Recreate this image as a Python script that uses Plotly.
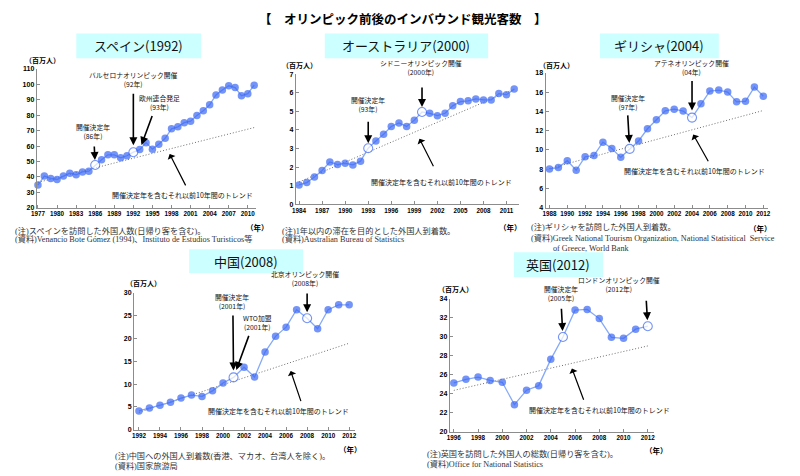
import numpy as np
import plotly.graph_objects as go

W, H = 800, 476

# ---------------- data ----------------
spain_years = list(range(1977, 2012))
spain_values = [34.7, 40.5, 39.0, 38.3, 40.5, 42.4, 41.3, 43.2, 43.7, 47.7,
                51.1, 54.3, 54.3, 52.4, 53.7, 56.0, 57.7, 62.2, 58.0, 61.2,
                65.0, 71.2, 72.5, 75.2, 76.1, 79.9, 82.9, 86.8, 93.2, 96.4,
                99.1, 98.0, 92.7, 94.0, 99.5]
spain_open = [1986, 1992]
spain_trend_years = [1977, 2011]
spain_trend_values = [36.4, 72.0]
spain_xticks = [1977, 1980, 1983, 1986, 1989, 1992, 1995, 1998, 2001, 2004, 2007, 2010]
spain_yticks = [20, 30, 40, 50, 60, 70, 80, 90, 100, 110]

aus_years = list(range(1984, 2013))
aus_values = [1.04, 1.17, 1.47, 1.82, 2.28, 2.14, 2.21, 2.12, 2.32, 3.02,
              3.41, 3.77, 4.19, 4.38, 4.19, 4.53, 4.97, 4.90, 4.77, 4.90,
              5.30, 5.53, 5.57, 5.67, 5.62, 5.62, 5.96, 5.90, 6.20]
aus_open = [1993, 2000]
aus_trend_years = [1984, 2012]
aus_trend_values = [1.2, 6.2]
aus_xticks = [1984, 1987, 1990, 1993, 1996, 1999, 2002, 2005, 2008, 2011]
aus_yticks = [0, 1, 2, 3, 4, 5, 6, 7]

gre_years = list(range(1988, 2013))
gre_values = [8.03, 8.17, 8.88, 7.89, 9.29, 9.43, 10.8, 10.15, 9.23, 10.11,
              10.93, 12.2, 13.15, 14.07, 14.24, 14.04, 13.36, 14.79, 16.12, 16.22,
              16.02, 15.0, 15.06, 16.53, 15.58]
gre_open = [1997, 2004]
gre_trend_years = [1988, 2012]
gre_trend_values = [8.07, 14.1]
gre_xticks = list(range(1988, 2013, 2))
gre_yticks = [4, 6, 8, 10, 12, 14, 16, 18]

chn_years = list(range(1992, 2013))
chn_values = [4.12, 4.77, 5.34, 5.99, 6.93, 7.58, 7.29, 8.52, 10.25, 11.47,
              13.71, 11.54, 17.02, 20.48, 22.5, 26.32, 24.45, 22.14, 26.32, 27.4, 27.4]
chn_open = [2001, 2008]
chn_trend_years = [1992, 2012]
chn_trend_values = [3.8, 18.97]
chn_xticks = list(range(1992, 2013, 2))
chn_yticks = [0, 5, 10, 15, 20, 25, 30]

uk_years = list(range(1996, 2013))
uk_values = [25.14, 25.52, 25.76, 25.41, 25.21, 22.86, 24.38, 24.86, 27.62, 29.97,
             32.79, 32.86, 31.9, 29.93, 29.83, 30.79, 31.1]
uk_open = [2005, 2012]
uk_trend_years = [1996, 2012]
uk_trend_values = [24.36, 29.03]
uk_xticks = list(range(1996, 2013, 2))
uk_yticks = [20, 22, 24, 26, 28, 30, 32, 34]

main_title = "【　オリンピック前後のインバウンド観光客数　】"
trend_label = "開催決定年を含むそれ以前10年間のトレンド"

# ---------------- styles ----------------
SANS = "Liberation Sans, Arial, Noto Sans CJK JP"
CJK = "Noto Sans CJK JP, Liberation Sans"
SERIF = "Liberation Serif, Noto Sans CJK JP"
LINE_C = "#86AAF8"
MARK_C = "#3A66F4"
BOX_C = "#CCFFFF"

def px(x):
    return x / W

def py(y):
    return 1 - y / H

panels = [
    dict(name="スペイン(1992)", years=spain_years, values=spain_values, open=spain_open,
         ty=spain_trend_years, tv=spain_trend_values, xt=spain_xticks, yt=spain_yticks,
         xdom=(31, 253), ydom=(66, 206.7), xr=(1976.8, 2011.36), yr=(20, 110),
         box=(71, 30, 197, 55),
         unit=(37, 57), nen=(254, 227),
         notes=[(7, 230, "(注)スペインを訪問した外国人数(日帰り客を含む)。"),
                (7, 239, "(資料)Venancio Bote Gómez (1994)、Instituto de Estudios Turisticos等")],
         events=[(1986, "開催決定年<br>(86年)", -2, 22, -1, -20, 5),
                 (1992, "バルセロナオリンピック開催<br>(92年)", 0, 61, 0, -60, 7),
                 (1993, "欧州連合発足<br>(93年)", 20, 36, 13, -35, 5)],
         trend_ann=(1997.35, 15, -45.3, 19, 37.3, 5)),
    dict(name="オーストラリア(2000)", years=aus_years, values=aus_values, open=aus_open,
         ty=aus_trend_years, tv=aus_trend_values, xt=aus_xticks, yt=aus_yticks,
         xdom=(292.7, 518), ydom=(71.3, 203.3), xr=(1983.57, 2012.6), yr=(0, 7),
         box=(322, 30, 487, 55),
         unit=(296, 62), nen=(510, 227),
         notes=[(277, 230, "(注)1年以内の滞在を目的とした外国人到着数。"),
                (277, 239, "(資料)Australian Bureau of Statistics")],
         events=[(1993, "開催決定年<br>(93年)", 0, 32, 0, -28, 5),
                 (2000, "シドニーオリンピック開催<br>(2000年)", -1, 32.6, 0, -26, 5)],
         trend_ann=(1999.2, 26, -50.4, 18.3, 36.1, 8)),
    dict(name="ギリシャ(2004)", years=gre_years, values=gre_values, open=gre_open,
         ty=gre_trend_years, tv=gre_trend_values, xt=gre_xticks, yt=gre_yticks,
         xdom=(545, 770), ydom=(70, 206.7), xr=(1987.56, 2012.56), yr=(4, 18),
         box=(600, 30, 720, 55),
         unit=(556, 62), nen=(762, 228),
         notes=[(528, 226, "(注)ギリシャを訪問した外国人到着数。"),
                (528, 237, "(資料)Greek National Tourism Organization, National Statisitical  Service"),
                (551, 248, "of Greece, World Bank")],
         events=[(1997, "開催決定年<br>(97年)", -2, 35, -2, -35, 6),
                 (2004, "アテネオリンピック開催<br>(04年)", -1, 38.8, 0, -38, 7)],
         trend_ann=(2003.86, 3.3, -41.2, 18.3, 32.6, 5)),
    dict(name="中国(2008)", years=chn_years, values=chn_values, open=chn_open,
         ty=chn_trend_years, tv=chn_trend_values, xt=chn_xticks, yt=chn_yticks,
         xdom=(129.3, 353), ydom=(293.3, 432), xr=(1991.53, 2012.6), yr=(0, 30),
         box=(185, 249, 300, 273),
         unit=(139, 283), nen=(348, 452),
         notes=[(108, 459, "(注)中国への外国人到着数(香港、マカオ、台湾人を除く)。"),
                (108, 469, "(資料)国家旅游局")],
         events=[(2001, "開催決定年<br>(2001年)", -1.6, 64.5, -0.6, -63.3, 7),
                 (2001, "WTO加盟<br>(2001年)", 24, 43.5, 15.8, -43, 8),
                 (2008, "北京オリンピック開催<br>(2008年)", -2.5, 28, 0, -26.3, 6)],
         trend_ann=(2006.19, -10, -48, 13.3, 39.3, 8)),
    dict(name="英国(2012)", years=uk_years, values=uk_values, open=uk_open,
         ty=uk_trend_years, tv=uk_trend_values, xt=uk_xticks, yt=uk_yticks,
         xdom=(448.3, 655), ydom=(299, 434.3), xr=(1995.67, 2012.55), yr=(20, 34),
         box=(513, 252, 603, 277),
         unit=(454, 289), nen=(657, 453),
         notes=[(423, 457, "(注)英国を訪問した外国人の総数(日帰り客を含む)。"),
                (423, 467, "(資料)Office for National Statistics")],
         events=[(2005, "開催決定年<br>(2005年)", -1.6, 32, -1.6, -29.7, 6),
                 (2012, "ロンドンオリンピック開催<br>(2012年)", -28.3, 30.5, -1.6, -27, 6)],
         trend_ann=(2005.6, 29, -46.6, 14, 37.6, 5)),
]

fig = go.Figure()
annotations = []
shapes = []
layout_axes = {}

for i, p in enumerate(panels):
    n = i + 1
    xa = "x" if n == 1 else f"x{n}"
    ya = "y" if n == 1 else f"y{n}"
    xkey = "xaxis" if n == 1 else f"xaxis{n}"
    ykey = "yaxis" if n == 1 else f"yaxis{n}"

    # trend line
    fig.add_trace(go.Scatter(x=p["ty"], y=p["tv"], mode="lines",
                             line=dict(color="#6f6f6f", width=1, dash="1px,2px"),
                             xaxis=xa, yaxis=ya, hoverinfo="skip", showlegend=False))
    # data
    is_open = [yr in p["open"] for yr in p["years"]]
    fig.add_trace(go.Scatter(
        x=p["years"], y=p["values"], mode="lines+markers",
        line=dict(color=LINE_C, width=1.3),
        marker=dict(color=["white" if o else MARK_C for o in is_open],
                    size=[9 if o else 7.5 for o in is_open],
                    line=dict(color=MARK_C, width=[1.1 if o else 0 for o in is_open])),
        xaxis=xa, yaxis=ya, showlegend=False, cliponaxis=False))

    layout_axes[xkey] = dict(domain=[px(p["xdom"][0]), px(p["xdom"][1])], range=list(p["xr"]),
                             anchor=ya, tickvals=p["xt"], ticktext=[str(t) for t in p["xt"]],
                             showline=True, linecolor="#8c8c8c", linewidth=1,
                             ticks="inside", ticklen=3, tickcolor="#8c8c8c",
                             showgrid=False, zeroline=False,
                             tickfont=dict(family=SANS, size=6.3, color="#000", weight="bold"),
                             fixedrange=True)
    layout_axes[ykey] = dict(domain=[py(p["ydom"][1]), py(p["ydom"][0])], range=list(p["yr"]),
                             anchor=xa, tickvals=p["yt"],
                             showline=True, linecolor="#8c8c8c", linewidth=1,
                             ticks="inside", ticklen=3, tickcolor="#8c8c8c",
                             showgrid=False, zeroline=False,
                             tickfont=dict(family=SANS, size=7, color="#000", weight="bold"),
                             fixedrange=True)

    # title box
    bx0, by0, bx1, by1 = p["box"]
    shapes.append(dict(type="rect", xref="paper", yref="paper",
                       x0=px(bx0), x1=px(bx1), y0=py(by1), y1=py(by0),
                       fillcolor=BOX_C, line=dict(width=0), layer="below"))
    annotations.append(dict(xref="paper", yref="paper", x=px((bx0 + bx1) / 2), y=py((by0 + by1) / 2),
                            text=p["name"], showarrow=False, xanchor="center", yanchor="middle",
                            font=dict(family=CJK, size=13, color="#111")))
    # unit labels
    annotations.append(dict(xref="paper", yref="paper", x=px(p["unit"][0]), y=py(p["unit"][1]),
                            text="（百万人）", showarrow=False, xanchor="center", yanchor="middle",
                            font=dict(family=CJK, size=7, color="#000", weight="bold")))
    annotations.append(dict(xref="paper", yref="paper", x=px(p["nen"][0]), y=py(p["nen"][1]),
                            text="（年）", showarrow=False, xanchor="center", yanchor="middle",
                            font=dict(family=CJK, size=7.5, color="#000", weight="bold")))
    for (nx, ny, t) in p["notes"]:
        annotations.append(dict(xref="paper", yref="paper", x=px(nx), y=py(ny), text=t,
                                showarrow=False, xanchor="left", yanchor="middle",
                                font=dict(family=SERIF, size=8.2, color="#333")))

    # event arrows
    for (yr, txt, dx, dy, ax, ay, so) in p["events"]:
        val = p["values"][p["years"].index(yr)]
        annotations.append(dict(xref=xa, yref=ya, x=yr, y=val, text=txt, showarrow=False,
                                xanchor="center", yanchor="bottom", xshift=dx, yshift=dy,
                                font=dict(family=CJK, size=6.8, color="#111")))
        annotations.append(dict(xref=xa, yref=ya, x=yr, y=val, text="", showarrow=True,
                                ax=ax, ay=ay, standoff=so, arrowhead=2, arrowsize=1,
                                arrowwidth=1.6, arrowcolor="#000"))
    # trend arrow
    tyr, dx, dy, ax, ay, so = p["trend_ann"]
    tval = float(np.interp(tyr, p["ty"], p["tv"]))
    annotations.append(dict(xref=xa, yref=ya, x=tyr, y=tval, text=trend_label, showarrow=False,
                            xanchor="center", yanchor="middle", xshift=dx, yshift=dy,
                            font=dict(family=CJK, size=7, color="#111")))
    annotations.append(dict(xref=xa, yref=ya, x=tyr, y=tval, text="", showarrow=True,
                            ax=ax, ay=ay, standoff=so, arrowhead=1, arrowsize=1.2,
                            arrowwidth=1.2, arrowcolor="#000"))

annotations.append(dict(xref="paper", yref="paper", x=px(401), y=py(15), text=main_title,
                        showarrow=False, xanchor="center", yanchor="middle",
                        font=dict(family=CJK, size=12.5, color="#000", weight="bold")))

fig.update_layout(width=W, height=H, margin=dict(l=0, r=0, t=0, b=0),
                  paper_bgcolor="white", plot_bgcolor="white",
                  annotations=annotations, shapes=shapes, showlegend=False,
                  **layout_axes)

fig.write_html("out.html", config={"displayModeBar": False},
               post_script="document.body.style.margin='0';document.body.style.overflow='hidden';")
